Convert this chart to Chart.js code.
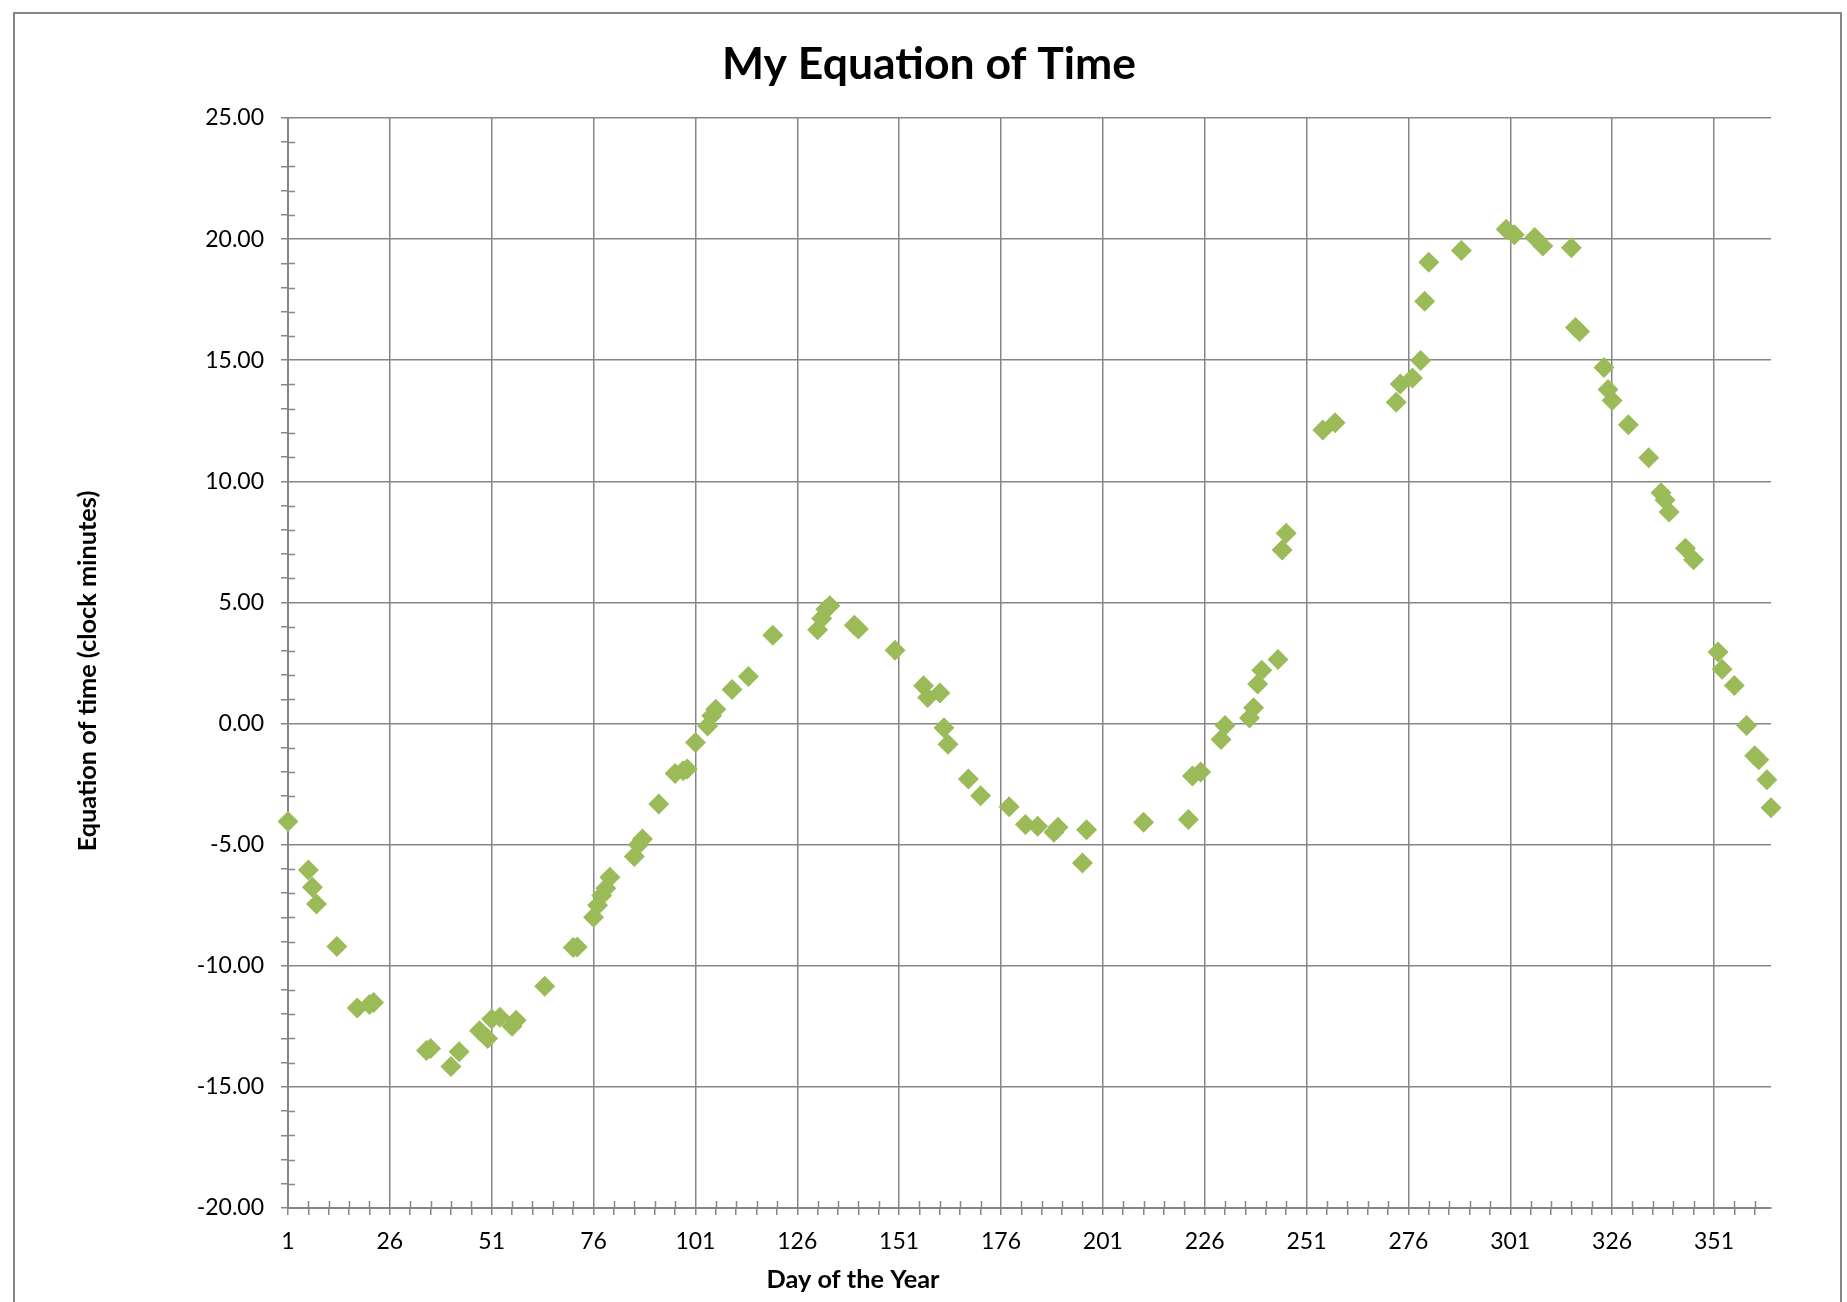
<!DOCTYPE html>
<html>
<head>
<meta charset="utf-8">
<script src="https://cdn.jsdelivr.net/npm/chart.js@4.4.1/dist/chart.umd.min.js"></script>
<style>
html,body{margin:0;padding:0;background:#fff;overflow:hidden}
canvas{display:block}
</style>
</head>
<body>
<canvas id="c" width="1847" height="1302"></canvas>
<script>
// ---- data ----
const days = [1,6,7,8,13,18,21,22,35,36,41,43,48,50,51,53,56,57,64,71,72,76,77,78,79,80,86,87,88,92,96,98,99,101,104,105,106,110,114,120,131,132,133,134,140,141,150,157,158,161,162,163,168,171,178,182,185,189,190,196,197,211,222,223,225,230,231,237,238,239,240,244,245,246,255,258,273,274,277,279,280,281,289,300,302,307,309,316,317,318,324,325,326,330,335,338,339,340,344,346,352,353,356,359,361,362,364,365];
const minutes = [-4.04,-6.05,-6.76,-7.45,-9.2,-11.74,-11.6,-11.52,-13.5,-13.42,-14.16,-13.55,-12.68,-13.0,-12.2,-12.12,-12.5,-12.25,-10.85,-9.25,-9.22,-8.0,-7.5,-7.1,-6.8,-6.35,-5.49,-5.0,-4.77,-3.32,-2.06,-1.95,-1.88,-0.78,-0.1,0.32,0.59,1.41,1.94,3.65,3.87,4.34,4.72,4.86,4.06,3.9,3.03,1.56,1.08,1.26,-0.17,-0.85,-2.29,-2.98,-3.43,-4.17,-4.24,-4.49,-4.28,-5.76,-4.38,-4.07,-3.96,-2.17,-2.0,-0.66,-0.08,0.23,0.65,1.63,2.2,2.64,7.17,7.86,12.12,12.42,13.27,14.02,14.27,14.99,17.43,19.04,19.53,20.41,20.18,20.07,19.72,19.64,16.35,16.19,14.7,13.79,13.34,12.34,10.97,9.53,9.23,8.73,7.24,6.76,2.95,2.24,1.57,-0.08,-1.33,-1.49,-2.32,-3.48];
const xMajorTicks = [1,26,51,76,101,126,151,176,201,226,251,276,301,326,351];
const yMajorTicks = [-20,-15,-10,-5,0,5,10,15,20,25];
const xRange = [1, 365];
const yRange = [-20, 25];
const chartTitle = 'My Equation of Time';
const xTitle = 'Day of the Year';
const yTitle = 'Equation of time (clock minutes)';

// ---- styles ----
const GREEN = '#9BBB59';
const GRID = '#868686';
const FONT = 'Lato, "Open Sans", sans-serif';
const xMinorStep = 5, yMinorStep = 1;

const xAllTicks = [];
for (let v = xRange[0]; v < xRange[1]; v += xMinorStep) xAllTicks.push(v);
const yAllTicks = [];
for (let v = yRange[0]; v <= yRange[1]; v += yMinorStep) yAllTicks.push(v);

const extras = {
  id: 'extras',
  beforeDraw(chart) {
    const ctx = chart.ctx;
    ctx.save();
    ctx.fillStyle = '#fff';
    ctx.fillRect(0, 0, chart.width, chart.height);
    ctx.strokeStyle = GRID;
    ctx.lineWidth = 2;
    ctx.strokeRect(14, 13, 1827, 1400);
    ctx.restore();
  },
  beforeDatasetsDraw(chart) {
    const ctx = chart.ctx, ca = chart.chartArea;
    const xs = chart.scales.x, ys = chart.scales.y;
    ctx.save();
    ctx.strokeStyle = GRID;
    ctx.lineWidth = 1.5;
    ctx.beginPath();
    xAllTicks.forEach(v => {
      if (xMajorTicks.includes(v)) return;
      const px = Math.round(xs.getPixelForValue(v)) + 0.5;
      ctx.moveTo(px, ca.bottom);
      ctx.lineTo(px, ca.bottom - 7);
    });
    yAllTicks.forEach(v => {
      if (yMajorTicks.includes(v)) return;
      const py = Math.round(ys.getPixelForValue(v)) + 0.5;
      ctx.moveTo(ca.left, py);
      ctx.lineTo(ca.left + 7, py);
    });
    ctx.stroke();
    ctx.restore();
  },
  afterDraw(chart) {
    const ctx = chart.ctx;
    ctx.save();
    ctx.fillStyle = '#000';
    ctx.textAlign = 'center';
    ctx.textBaseline = 'alphabetic';
    ctx.font = 'bold 44.5px ' + FONT;
    ctx.fillText(chartTitle, 929, 79);
    ctx.font = 'bold 25.3px ' + FONT;
    ctx.fillText(xTitle, 853, 1288);
    ctx.translate(96, 671);
    ctx.rotate(-Math.PI / 2);
    ctx.fillText(yTitle, 0, 0);
    ctx.restore();
  }
};

new Chart(document.getElementById('c'), {
  type: 'scatter',
  data: {
    datasets: [{
      label: 'Equation of time',
      data: days.map((d, i) => ({ x: d, y: minutes[i] })),
      pointStyle: 'rectRot',
      pointRadius: 10.5,
      pointHoverRadius: 10.5,
      backgroundColor: GREEN,
      borderWidth: 0,
      clip: false
    }]
  },
  options: {
    responsive: false,
    animation: false,
    devicePixelRatio: 1,
    layout: { padding: { top: 118, left: 0, right: 76, bottom: 34 } },
    plugins: { legend: { display: false }, title: { display: false }, tooltip: { enabled: false } },
    scales: {
      x: {
        type: 'linear',
        min: xRange[0], max: xRange[1],
        afterBuildTicks: s => { s.ticks = xAllTicks.map(v => ({ value: v })); },
        afterFit: s => { s.height = 60; },
        border: { color: GRID, width: 2 },
        grid: {
          color: c => (c.tick && xMajorTicks.includes(c.tick.value)) ? GRID : 'rgba(0,0,0,0)',
          tickColor: GRID,
          lineWidth: 1.5,
          tickLength: 7,
          drawTicks: true
        },
        ticks: {
          autoSkip: false, maxRotation: 0, padding: 13,
          color: '#000',
          font: { family: FONT, size: 23 },
          callback: v => xMajorTicks.includes(v) ? String(v) : ''
        }
      },
      y: {
        type: 'linear',
        min: yRange[0], max: yRange[1],
        afterBuildTicks: s => { s.ticks = yAllTicks.map(v => ({ value: v })); },
        afterFit: s => { s.width = 288; },
        border: { color: GRID, width: 2 },
        grid: {
          color: c => (c.tick && yMajorTicks.includes(c.tick.value)) ? GRID : 'rgba(0,0,0,0)',
          tickColor: GRID,
          lineWidth: 1.5,
          tickLength: 7,
          drawTicks: true
        },
        ticks: {
          autoSkip: false, padding: 17,
          color: '#000',
          font: { family: FONT, size: 23 },
          callback: v => yMajorTicks.includes(v) ? v.toFixed(2) : ''
        }
      }
    }
  },
  plugins: [extras]
});
</script>
</body>
</html>
